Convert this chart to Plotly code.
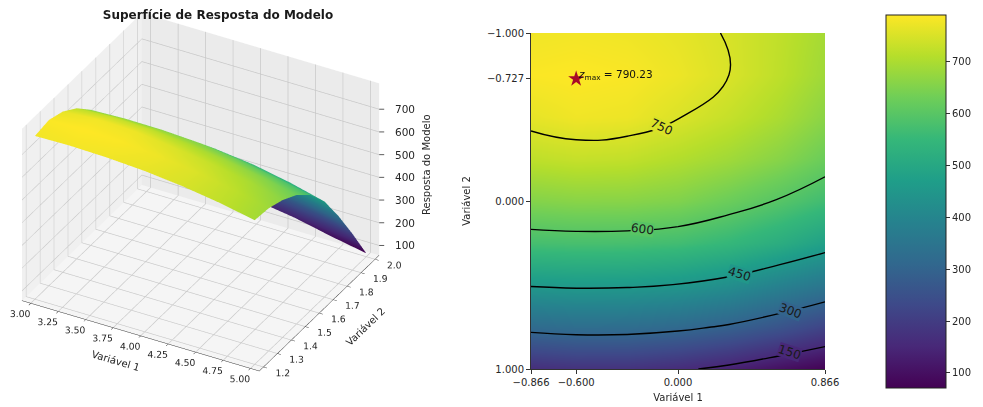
import plotly.graph_objects as go
from plotly.colors import sample_colorscale

x_coded = [-0.866, -0.6, -0.3, 0.0, 0.3, 0.6, 0.866]
y_coded = [-1.0, -0.75, -0.5, -0.25, 0.0, 0.25, 0.5, 0.75, 1.0]
z_values = [
    [776, 779, 775, 765, 747, 722, 692],
    [787, 790, 786, 772, 750, 719, 685],
    [765, 776, 772, 752, 728, 698, 662],
    [720, 728, 724, 707, 686, 658, 625],
    [654, 660, 659, 650, 625, 596, 566],
    [574, 577, 576, 568, 548, 516, 478],
    [455, 460, 458, 448, 426, 388, 355],
    [320, 328, 327, 315, 292, 258, 218],
    [165, 175, 175, 160, 135, 100, 72],
]
x_real = [3.0, 3.31, 3.65, 4.0, 4.35, 4.69, 5.0]
y_real = [1.2, 1.3, 1.4, 1.5, 1.6, 1.7, 1.8, 1.9, 2.0]
x_real_ticks = [3.0, 3.25, 3.5, 3.75, 4.0, 4.25, 4.5, 4.75, 5.0]
y_real_ticks = [1.2, 1.3, 1.4, 1.5, 1.6, 1.7, 1.8, 1.9, 2.0]
z_ticks = [100, 200, 300, 400, 500, 600, 700]
x_ticks = [-0.866, -0.6, 0.0, 0.866]
x_tick_text = ["−0.866", "−0.600", "0.000", "0.866"]
y_ticks = [-1.0, -0.727, 0.0, 1.0]
y_tick_text = ["−1.000", "−0.727", "0.000", "1.000"]
star_x = [-0.6]
star_y = [-0.727]
star_text = "<i>z</i><sub>max</sub> = 790.23"
z_low, z_high = 71, 790
levels = [150, 300, 450, 600, 750]
level_label_x = [0.654, 0.664, 0.36, -0.212, -0.096]
level_label_y = [0.90, 0.653, 0.435, 0.165, -0.44]
level_label_angle = [18, 20, 17, 8, 25]

FONT = "DejaVu Sans"
TXT = "#262626"
PANE_GRID = "#c8c8c8"
X_RANGE = [2.92, 5.08]
Y_RANGE = [1.17, 2.03]
Z_RANGE = [57, 814]

# The page body has an 8 px margin, so the figure is laid out from (8, 8).
W, H = 975, 399


def fx(px):
    return (px - 8) / W


def fy(py):
    return 1 - (py - 8) / H


def scene_axis(title, ticks, text, rng, bg):
    return dict(
        title=dict(text=title, font=dict(family=FONT, size=10, color=TXT)),
        range=rng,
        tickvals=ticks,
        ticktext=text,
        tickangle=0,
        tickfont=dict(family=FONT, size=10.5, color=TXT),
        showbackground=True,
        backgroundcolor=bg,
        gridcolor=PANE_GRID,
        gridwidth=1.5,
        zeroline=False,
        showline=True,
        linecolor="#333333",
        ticks="outside",
        ticklen=4,
        tickcolor="#333333",
        showspikes=False,
    )


fig = go.Figure()

fig.add_trace(go.Surface(
    x=x_real, y=y_real, z=z_values,
    colorscale="Viridis", cmin=z_low, cmax=z_high, showscale=False,
    lighting=dict(ambient=0.95, diffuse=0.1, specular=0.0, fresnel=0.0),
    contours=dict(x=dict(highlight=False), y=dict(highlight=False), z=dict(highlight=False)),
))

fig.add_trace(go.Heatmap(
    x=x_coded, y=y_coded, z=z_values,
    colorscale="Viridis", zmin=z_low, zmax=z_high, zsmooth="best",
    xaxis="x", yaxis="y",
    colorbar=dict(
        x=fx(886), xanchor="left", xref="paper",
        y=fy(388), yanchor="bottom", yref="paper",
        len=373 / H, lenmode="fraction",
        thickness=60, thicknessmode="pixels",
        xpad=0, ypad=0,
        outlinecolor="#222222", outlinewidth=1,
        tickvals=z_ticks, ticks="outside", ticklen=4, tickcolor="#333333",
        tickfont=dict(family=FONT, size=10, color=TXT),
    ),
))

fig.add_trace(go.Contour(
    x=x_coded, y=y_coded, z=z_values,
    autocontour=False, showscale=False,
    contours=dict(start=levels[0], end=levels[-1], size=150, coloring="none", showlabels=False),
    line=dict(color="black", width=1.4, smoothing=1.3),
    xaxis="x", yaxis="y",
))

fig.add_trace(go.Scatter(
    x=star_x, y=star_y, mode="markers",
    marker=dict(symbol="star", size=12, color="#a80a28"),
    showlegend=False, xaxis="x", yaxis="y",
))

fig.add_annotation(
    x=star_x[0], y=star_y[0], xref="x", yref="y", text=star_text, showarrow=False,
    xanchor="left", yanchor="middle", yshift=4,
    font=dict(family=FONT, size=10.5, color="#111111"),
)

for lev, lx, ly, ang in zip(levels, level_label_x, level_label_y, level_label_angle):
    t = (lev - z_low) / (z_high - z_low)
    fig.add_annotation(
        x=lx, y=ly, xref="x", yref="y", text=str(lev), showarrow=False,
        textangle=ang, borderpad=0, borderwidth=0,
        bgcolor=sample_colorscale("Viridis", [t])[0],
        font=dict(family=FONT, size=12, color="#1a1a1a"),
    )

fig.add_annotation(
    x=fx(427), y=fy(165), xref="paper", yref="paper", text="Resposta do Modelo",
    showarrow=False, textangle=-90, font=dict(family=FONT, size=10, color=TXT),
)

z_axis_notes = [
    dict(x=X_RANGE[1], y=Y_RANGE[1], z=v, text=str(v), showarrow=True, arrowhead=0,
         arrowwidth=0.8, arrowcolor="#333333", ax=14, ay=0, startstandoff=9, standoff=0,
         xanchor="left", font=dict(family=FONT, size=10.5, color=TXT))
    for v in z_ticks
]

fig.update_layout(
    width=W, height=H,
    margin=dict(l=0, r=0, t=0, b=0, autoexpand=False),
    paper_bgcolor="white",
    showlegend=False,
    title=dict(
        text="<b>Superfície de Resposta do Modelo</b>",
        x=fx(218), xanchor="center", y=fy(15), yanchor="middle",
        font=dict(family=FONT, size=12, color="#1a1a1a"),
    ),
    scene=dict(
        domain=dict(x=[fx(8), fx(420)], y=[0.0, fy(8)]),
        xaxis=scene_axis("Variável 1", x_real_ticks, [f"{v:.2f}" for v in x_real_ticks], X_RANGE, "#f0f0f0"),
        yaxis=scene_axis("Variável 2", y_real_ticks, [f"{v:.1f}" for v in y_real_ticks], Y_RANGE, "#ebebeb"),
        zaxis=dict(
            scene_axis("", z_ticks, None, Z_RANGE, "#f5f5f5"),
            showticklabels=False, ticks="", showline=False,
        ),
        aspectmode="manual",
        aspectratio=dict(x=1.36, y=1.24, z=1.02),
        camera=dict(
            eye=dict(x=0.693, y=-1.112, z=0.737), center=dict(x=0.058, y=0.034, z=-0.093),
            up=dict(x=0, y=0, z=1), projection=dict(type="orthographic"),
        ),
        annotations=z_axis_notes,
    ),
    xaxis=dict(
        domain=[fx(531), fx(825)], range=[-0.866, 0.866],
        tickvals=x_ticks, ticktext=x_tick_text, ticks="outside", ticklen=4,
        tickfont=dict(family=FONT, size=10, color=TXT), tickcolor="#333333",
        showgrid=False, zeroline=False, showline=True, linecolor="#333333",
        title=dict(text="Variável 1", font=dict(family=FONT, size=10, color=TXT), standoff=6),
    ),
    yaxis=dict(
        domain=[fy(369), fy(33)], range=[1.0, -1.0],
        tickvals=y_ticks, ticktext=y_tick_text, ticks="outside", ticklen=4,
        tickfont=dict(family=FONT, size=10, color=TXT), tickcolor="#333333",
        showgrid=False, zeroline=False, showline=True, linecolor="#333333",
        title=dict(text="Variável 2", font=dict(family=FONT, size=10, color=TXT), standoff=14),
    ),
)

fig.write_html("out.html")
